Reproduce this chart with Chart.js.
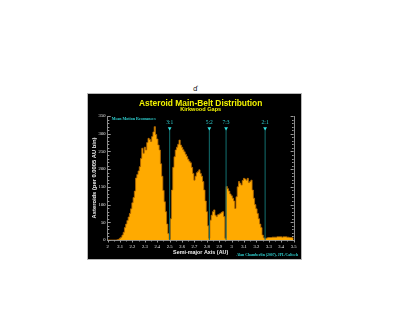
<!DOCTYPE html>
<html><head><meta charset="utf-8">
<script src="https://cdn.jsdelivr.net/npm/chart.js@4.4.1/dist/chart.umd.min.js"></script>
<style>
html,body{margin:0;padding:0;background:#fff;width:412px;height:319px;overflow:hidden;}
#wrap{position:absolute;left:88px;top:94px;width:213px;height:165px;background:#000;outline:1px solid #b8b8b8;}
#mark{position:absolute;left:193px;top:85px;font:7px "DejaVu Sans";color:#111;}
</style></head><body>
<span id="mark">ɗ</span>
<div id="wrap"><canvas id="c" width="213" height="165"></canvas></div>
<script>
// ---- data ----
const chartTitle = "Asteroid Main-Belt Distribution";
const chartSubtitle = "Kirkwood Gaps";
const xAxisTitle = "Semi-major Axis (AU)";
const yAxisTitle = "Asteroids (per 0.0005 AU bin)";
const creditText = "Alan Chamberlin (2007), JPL/Caltech";
const resonanceHeader = "Mean Motion Resonances";
const binStartAU = 2.0;
const binWidthAU = 0.01;
const counts = [
  0,0,0,0,0,0,0,0,1,
  2,5,8,14,22,35,45,55,65,75,88,
  105,120,138,175,185,195,207,230,259,245,
  262,254,275,287,284,278,292,305,320,298,
  285,268,254,215,180,140,108,80,45,18,
  2,60,141,205,235,254,262,270,282,268,
  262,255,249,242,236,228,222,218,205,188,
  169,180,190,193,198,188,180,165,141,110,
  80,40,5,56,70,80,85,70,66,71,
  73,75,78,80,66,5,151,145,138,130,
  125,118,110,89,122,150,165,160,155,168,
  174,172,169,174,162,165,169,141,118,100,
  88,75,60,45,35,14,6,4,5,6,
  7,7,7,8,8,8,8,9,9,9,
  9,8,9,9,9,8,8,7,7,6,5
];
const resonanceAU = [2.50, 2.82, 2.955, 3.27];
const resonanceLabels = ["3:1", "5:2", "7:3", "2:1"];
const resonanceTop = 315;
const resonanceLabelY = 331;
const xMin = 2.0, xMax = 3.5, xStep = 0.1;
const yMin = 0, yMax = 350, yStep = 50;

// ---- build ----
const histPoints = counts.map((v, i) => ({x: binStartAU + i * binWidthAU, y: v}));
const resonanceSets = resonanceAU.map(a => ({
  type: 'line',
  data: [{x: a, y: 0}, {x: a, y: resonanceTop}],
  borderColor: '#127070',
  borderWidth: 1,
  pointRadius: [0, 2.2],
  pointStyle: 'triangle',
  rotation: 180,
  pointBackgroundColor: '#30E0E0',
  pointBorderWidth: 0,
  fill: false,
  order: 0
}));

const decor = {
  id: 'decor',
  afterDatasetsDraw(chart) {
    const {ctx, chartArea: ca, scales: {x, y}} = chart;
    ctx.save();
    ctx.strokeStyle = '#8a8a8a';
    ctx.lineWidth = 1;
    ctx.beginPath();
    ctx.moveTo(Math.round(ca.right) + 0.5, ca.top);
    ctx.lineTo(Math.round(ca.right) + 0.5, ca.bottom);
    ctx.stroke();
    ctx.strokeStyle = '#9a9a9a';
    for (let v = yMin; v <= yMax; v += 10) {
      const py = Math.round(y.getPixelForValue(v)) + 0.5;
      const len = (v % 50 === 0) ? 3 : 1.6;
      ctx.beginPath();
      ctx.moveTo(ca.left, py); ctx.lineTo(ca.left + len, py);
      ctx.moveTo(ca.right, py); ctx.lineTo(ca.right - len, py);
      ctx.stroke();
    }
    for (let k = 0; k <= 30; k++) {
      const v = xMin + k * 0.05;
      const px = Math.round(x.getPixelForValue(v)) + 0.5;
      const len = (k % 2 === 0) ? 2.5 : 1.5;
      ctx.beginPath();
      ctx.moveTo(px, ca.bottom); ctx.lineTo(px, ca.bottom + len);
      ctx.stroke();
    }
    ctx.fillStyle = '#2ED0D0';
    ctx.font = '5.5px "Liberation Serif"';
    ctx.textAlign = 'center';
    ctx.textBaseline = 'middle';
    resonanceAU.forEach((a, i) => {
      ctx.fillText(resonanceLabels[i], x.getPixelForValue(a), y.getPixelForValue(resonanceLabelY));
    });
    ctx.restore();
  },
  afterDraw(chart) {
    const {ctx, chartArea: ca} = chart;
    ctx.save();
    ctx.textBaseline = 'middle';
    ctx.textAlign = 'center';
    const cx = (ca.left + ca.right) / 2;
    ctx.fillStyle = '#F2F200';
    ctx.font = 'bold 8.4px "Liberation Sans"';
    ctx.fillText(chartTitle, cx, 9.8);
    ctx.font = 'bold 5.6px "Liberation Sans"';
    ctx.fillText(chartSubtitle, cx, 15.4);
    ctx.fillStyle = '#2ED0D0';
    ctx.textAlign = 'left';
    ctx.font = 'bold 4px "Liberation Serif"';
    ctx.fillText(resonanceHeader, ca.left + 4, ca.top + 3.2);
    ctx.textAlign = 'right';
    ctx.font = 'bold 3.8px "Liberation Serif"';
    ctx.fillText(creditText, 210, 161);
    ctx.restore();
  }
};

new Chart(document.getElementById('c'), {
  type: 'line',
  data: {
    datasets: [
      ...resonanceSets,
      {
        data: histPoints,
        stepped: 'middle',
        fill: 'origin',
        backgroundColor: '#FFAA00',
        borderColor: '#B86C00',
        borderWidth: 0.8,
        pointRadius: 0,
        order: 1
      }
    ]
  },
  options: {
    responsive: false,
    devicePixelRatio: 1,
    animation: false,
    layout: {padding: {top: 22, right: 6.7, left: 0, bottom: 0}},
    plugins: {legend: {display: false}, tooltip: {enabled: false}, title: {display: false}},
    scales: {
      x: {
        type: 'linear', min: xMin, max: xMax,
        afterFit(s) { s.height = 19; },
        grid: {display: false, drawTicks: false},
        border: {display: true, color: '#8a8a8a', width: 1},
        ticks: {
          stepSize: xStep, autoSkip: false, maxRotation: 0, padding: 4.5,
          color: '#e8e8e8', font: {family: '"Liberation Serif"', size: 4.6},
          callback: v => String(Math.round(v * 10) / 10)
        },
        title: {display: true, text: xAxisTitle, color: '#f0f0f0',
          font: {family: '"Liberation Sans"', size: 5.4, weight: 'bold'}, padding: {top: 0, bottom: 3.5}}
      },
      y: {
        min: yMin, max: yMax,
        afterFit(s) { s.width = 19.7; },
        grid: {display: false, drawTicks: false},
        border: {display: true, color: '#8a8a8a', width: 1},
        ticks: {
          stepSize: yStep, padding: 2.2, color: '#e8e8e8',
          font: {family: '"Liberation Serif"', size: 4.6}
        },
        title: {display: true, text: yAxisTitle, color: '#f0f0f0',
          font: {family: '"Liberation Sans"', size: 5.8, weight: 'bold'}, padding: {top: 2.6, bottom: 0}}
      }
    }
  },
  plugins: [decor]
});
</script>
</body></html>
